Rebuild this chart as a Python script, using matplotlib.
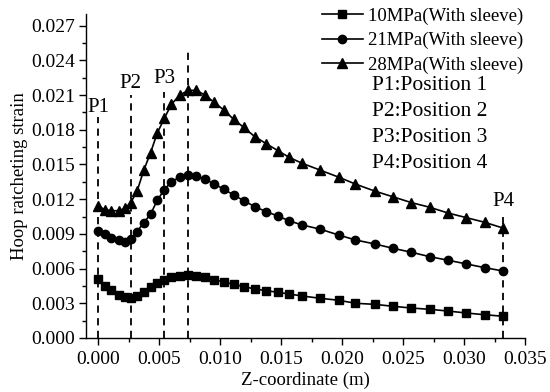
import matplotlib
matplotlib.use("Agg")
import matplotlib.pyplot as plt
from matplotlib.ticker import MultipleLocator, FormatStrFormatter

plt.rcParams['font.family'] = ['Liberation Serif', 'DejaVu Serif']

# Z-coordinate nodes (m)
z = [0.0, 0.00054, 0.00109, 0.00169, 0.00218, 0.00267, 0.00319, 0.00374, 0.00429,
     0.00484, 0.00543, 0.00601, 0.00669, 0.00738, 0.00806, 0.00874, 0.00948, 0.01030,
     0.01111, 0.01193, 0.01284, 0.01377, 0.01472, 0.01568, 0.01672, 0.01822, 0.01972,
     0.02110, 0.02267, 0.02418, 0.02568, 0.02718, 0.02869, 0.03019, 0.03169, 0.03320]

s10 = [0.00507, 0.00452, 0.00415, 0.00372, 0.00352, 0.00349, 0.00363, 0.00400, 0.00444,
       0.00478, 0.00501, 0.00525, 0.00539, 0.00545, 0.00539, 0.00525, 0.00505, 0.00484,
       0.00464, 0.00444, 0.00424, 0.00409, 0.00395, 0.00380, 0.00363, 0.00343, 0.00326,
       0.00300, 0.00291, 0.00274, 0.00259, 0.00248, 0.00233, 0.00216, 0.00201, 0.00188]

s21 = [0.00925, 0.00898, 0.00866, 0.00843, 0.00833, 0.00856, 0.00920, 0.00998, 0.01068,
       0.01190, 0.01283, 0.01351, 0.01390, 0.01405, 0.01397, 0.01375, 0.01333, 0.01286,
       0.01236, 0.01187, 0.01135, 0.01092, 0.01055, 0.01012, 0.00977, 0.00940, 0.00890,
       0.00847, 0.00813, 0.00775, 0.00741, 0.00703, 0.00672, 0.00640, 0.00608, 0.00579]

s28 = [0.0114, 0.0111, 0.0110, 0.0110, 0.0112, 0.0117, 0.0127, 0.0145, 0.0160,
       0.0177, 0.0190, 0.0202, 0.0210, 0.0214, 0.0214, 0.0210, 0.0204, 0.0197,
       0.0189, 0.0182, 0.0174, 0.0168, 0.0162, 0.0156, 0.0151, 0.0145, 0.0139,
       0.0133, 0.0127, 0.0122, 0.0117, 0.0113, 0.0108, 0.0104, 0.0100, 0.0095]

series_labels = ["10MPa(With sleeve)", "21MPa(With sleeve)", "28MPa(With sleeve)"]

# vertical reference lines: x position, top value, label
pos_x = [0.0, 0.00267, 0.00543, 0.00738, 0.0332]
pos_top = [0.0191, 0.0210, 0.0213, 0.0249, 0.0109]
pos_lab = ["P1", "P2", "P3", "", "P4"]
pos_lab_y = [0.0191, 0.0212, 0.0216, 0.0, 0.0110]

notes = ["P1:Position 1", "P2:Position 2", "P3:Position 3", "P4:Position 4"]

fig = plt.figure(figsize=(5.5, 3.92), dpi=100)
ax = fig.add_axes([86/550, 54/392, 439/550, 324/392])

for px, top in zip(pos_x, pos_top):
    ax.plot([px, px], [0, top], color='black', lw=1.3, ls=(0, (4, 3)), zorder=1)
for px, ly, lab in zip(pos_x, pos_lab_y, pos_lab):
    if lab:
        ax.text(px, ly, lab, ha='center', va='bottom', fontsize=15)

h1, = ax.plot(z, s10, color='black', lw=1.2, marker='s', ms=5.5, label=series_labels[0], zorder=3)
h2, = ax.plot(z, s21, color='black', lw=1.2, marker='o', ms=6, label=series_labels[1], zorder=3)
h3, = ax.plot(z, s28, color='black', lw=1.2, marker='^', ms=6.5, label=series_labels[2], zorder=3)

ax.set_xlim(-0.001, 0.035)
ax.set_ylim(0, 0.028)
ax.xaxis.set_major_locator(MultipleLocator(0.005))
ax.xaxis.set_minor_locator(MultipleLocator(0.0025))
ax.yaxis.set_major_locator(MultipleLocator(0.003))
ax.yaxis.set_minor_locator(MultipleLocator(0.0015))
ax.xaxis.set_major_formatter(FormatStrFormatter('%.3f'))
ax.yaxis.set_major_formatter(FormatStrFormatter('%.3f'))
ax.tick_params(which='major', direction='out', length=5, width=1, labelsize=14, pad=3)
ax.tick_params(which='minor', direction='out', length=3, width=1)
ax.tick_params(axis='x', which='major', pad=4)
for sp in ['top', 'right']:
    ax.spines[sp].set_visible(False)
for sp in ['left', 'bottom']:
    ax.spines[sp].set_linewidth(1.0)

ax.set_xlabel("Z-coordinate (m)", fontsize=13.5, labelpad=3)
ax.set_ylabel("Hoop ratcheting strain", fontsize=13.5, labelpad=2)

leg = ax.legend(handles=[h1, h2, h3], loc='upper left', bbox_to_anchor=(0.537, 1.02),
                frameon=False, fontsize=13.5, handlelength=2.2, handletextpad=0.25,
                labelspacing=0.38, borderpad=0, borderaxespad=0)

for i, t in enumerate(notes):
    fig.text(372/550, 1 - (85 + 26*i)/392, t, ha='left', va='center', fontsize=15.5)

fig.savefig("out.png", dpi=100)
